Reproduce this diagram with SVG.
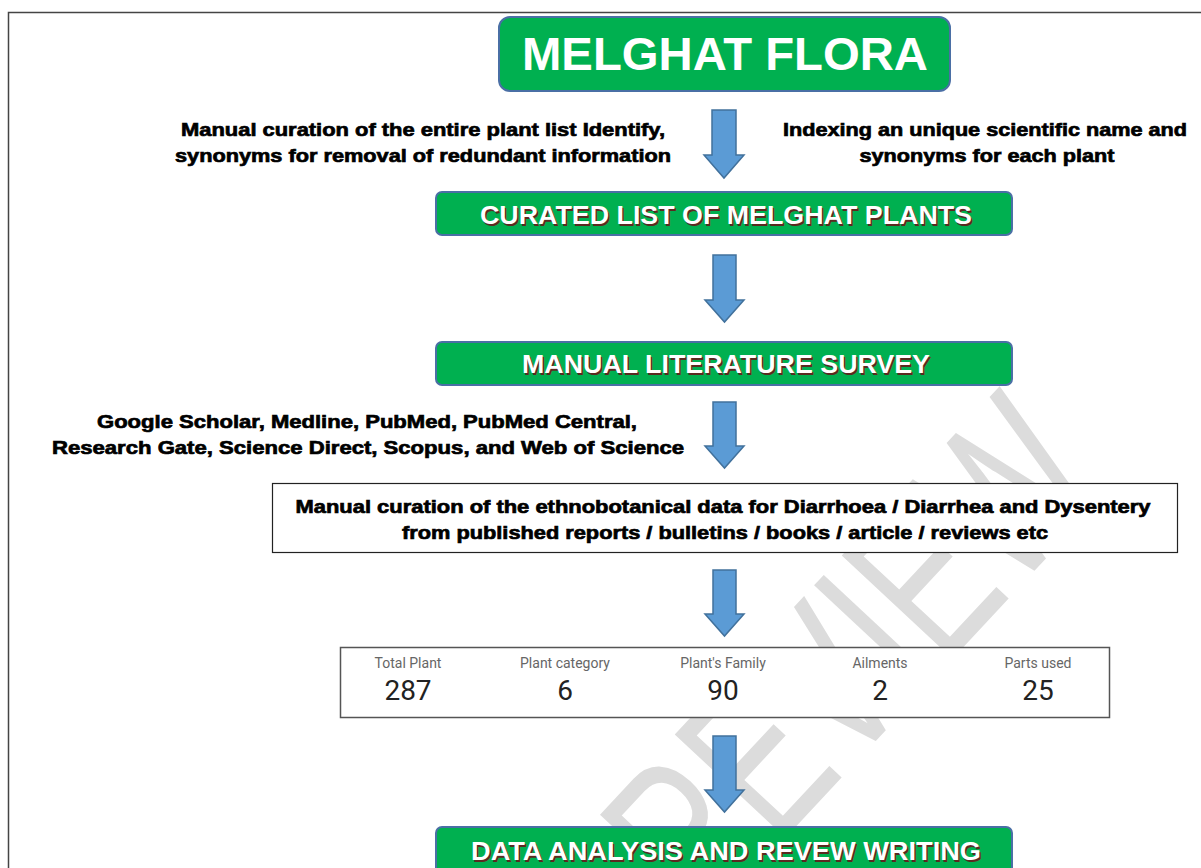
<svg xmlns="http://www.w3.org/2000/svg" width="1201" height="868" viewBox="0 0 1201 868">
<defs>
<style>
.frame{fill:#fff;stroke:#444;stroke-width:1.5}
.gbox{fill:#00b050;stroke:#4a6fa5;stroke-width:2}
.gt{font-family:"Liberation Sans",Arial,sans-serif;font-weight:bold;fill:#fff;text-anchor:middle}
.gs{font-family:"Liberation Sans",Arial,sans-serif;font-weight:bold;fill:#5a2a20;text-anchor:middle}
.bt{font-family:"Liberation Sans",Arial,sans-serif;font-weight:bold;fill:#000;stroke:#000;stroke-width:0.7;text-anchor:middle;font-size:19px}
.lab{font-family:Roboto,"Liberation Sans",sans-serif;fill:#666;font-size:14px;text-anchor:middle}
.num{font-family:Roboto,"Liberation Sans",sans-serif;fill:#222;font-size:28px;text-anchor:middle}
.arr{fill:#5b9bd5;stroke:#41719c;stroke-width:1.5}
.wm{font-family:"Liberation Sans",Arial,sans-serif;fill:#dcdcdc;font-size:220px}
</style>
</defs>
<rect class="frame" x="8.5" y="12.5" width="1200" height="870"/>
<g id="watermark">
<text class="wm" text-anchor="middle" textLength="700" lengthAdjust="spacingAndGlyphs" transform="translate(872,745) rotate(-47)">PREVIEW</text>
</g>
<g id="connectors">
<path class="arr" d="M712,110 H736 V155 H744 L724,178 L704,155 H712 Z"/>
<path class="arr" d="M713,255 H736 V300 H744 L724.5,322 L705,300 H713 Z"/>
<path class="arr" d="M713,402 H736 V446 H744 L724.5,468 L705,446 H713 Z"/>
<path class="arr" d="M713,570 H736 V614 H744 L724.5,636 L705,614 H713 Z"/>
<path class="arr" d="M713,736 H736 V790 H744 L724.5,812 L705,790 H713 Z"/>
</g>
<g id="n-melghat">
<rect class="gbox" x="499" y="17" width="451" height="74" rx="11"/>
<text class="gt" x="725" y="70" font-size="47" textLength="406" lengthAdjust="spacingAndGlyphs">MELGHAT FLORA</text>
</g>
<g id="t-left1">
<text class="bt" x="423" y="136" textLength="484" lengthAdjust="spacingAndGlyphs">Manual curation of the entire plant list Identify,</text>
<text class="bt" x="423" y="162" textLength="496" lengthAdjust="spacingAndGlyphs">synonyms for removal of redundant information</text>
</g>
<g id="t-right1">
<text class="bt" x="985" y="136" textLength="404" lengthAdjust="spacingAndGlyphs">Indexing an unique scientific name and</text>
<text class="bt" x="987" y="162" textLength="255" lengthAdjust="spacingAndGlyphs">synonyms for each plant</text>
</g>
<g id="n-curated">
<rect class="gbox" x="436" y="192" width="576" height="43" rx="6"/>
<text class="gs" x="727.5" y="225.5" font-size="25" textLength="492" lengthAdjust="spacingAndGlyphs">CURATED LIST OF MELGHAT PLANTS</text>
<text class="gt" x="726" y="224" font-size="25" textLength="492" lengthAdjust="spacingAndGlyphs">CURATED LIST OF MELGHAT PLANTS</text>
</g>
<g id="n-survey">
<rect class="gbox" x="436" y="342" width="576" height="43" rx="6"/>
<text class="gs" x="727.5" y="374.5" font-size="25" textLength="408" lengthAdjust="spacingAndGlyphs">MANUAL LITERATURE SURVEY</text>
<text class="gt" x="726" y="373" font-size="25" textLength="408" lengthAdjust="spacingAndGlyphs">MANUAL LITERATURE SURVEY</text>
</g>
<g id="t-left2">
<text class="bt" x="367" y="428" textLength="540" lengthAdjust="spacingAndGlyphs">Google Scholar, Medline, PubMed, PubMed Central,</text>
<text class="bt" x="368" y="454" textLength="632" lengthAdjust="spacingAndGlyphs">Research Gate, Science Direct, Scopus, and Web of Science</text>
</g>
<g id="n-curation">
<rect x="272.5" y="483.5" width="905" height="69" fill="#fff" stroke="#222" stroke-width="1.2"/>
<text class="bt" x="723" y="513" textLength="855" lengthAdjust="spacingAndGlyphs">Manual curation of the ethnobotanical data for Diarrhoea / Diarrhea  and Dysentery</text>
<text class="bt" x="725" y="539" textLength="646" lengthAdjust="spacingAndGlyphs">from published reports / bulletins / books / article / reviews  etc</text>
</g>
<g id="n-stats">
<rect x="340.5" y="647.5" width="769" height="70" fill="#fff" stroke="#555" stroke-width="1.5"/>
<text class="lab" x="408" y="668">Total Plant</text>
<text class="lab" x="565" y="668">Plant category</text>
<text class="lab" x="723" y="668">Plant's Family</text>
<text class="lab" x="880" y="668">Ailments</text>
<text class="lab" x="1038" y="668">Parts used</text>
<text class="num" x="408" y="700">287</text>
<text class="num" x="565" y="700">6</text>
<text class="num" x="723" y="700">90</text>
<text class="num" x="880" y="700">2</text>
<text class="num" x="1038" y="700">25</text>
</g>
<g id="n-analysis">
<rect class="gbox" x="436" y="827" width="576" height="50" rx="6"/>
<text class="gs" x="727.5" y="861.5" font-size="25" textLength="510" lengthAdjust="spacingAndGlyphs">DATA ANALYSIS AND REVEW WRITING</text>
<text class="gt" x="726" y="860" font-size="25" textLength="510" lengthAdjust="spacingAndGlyphs">DATA ANALYSIS AND REVEW WRITING</text>
</g>
</svg>
